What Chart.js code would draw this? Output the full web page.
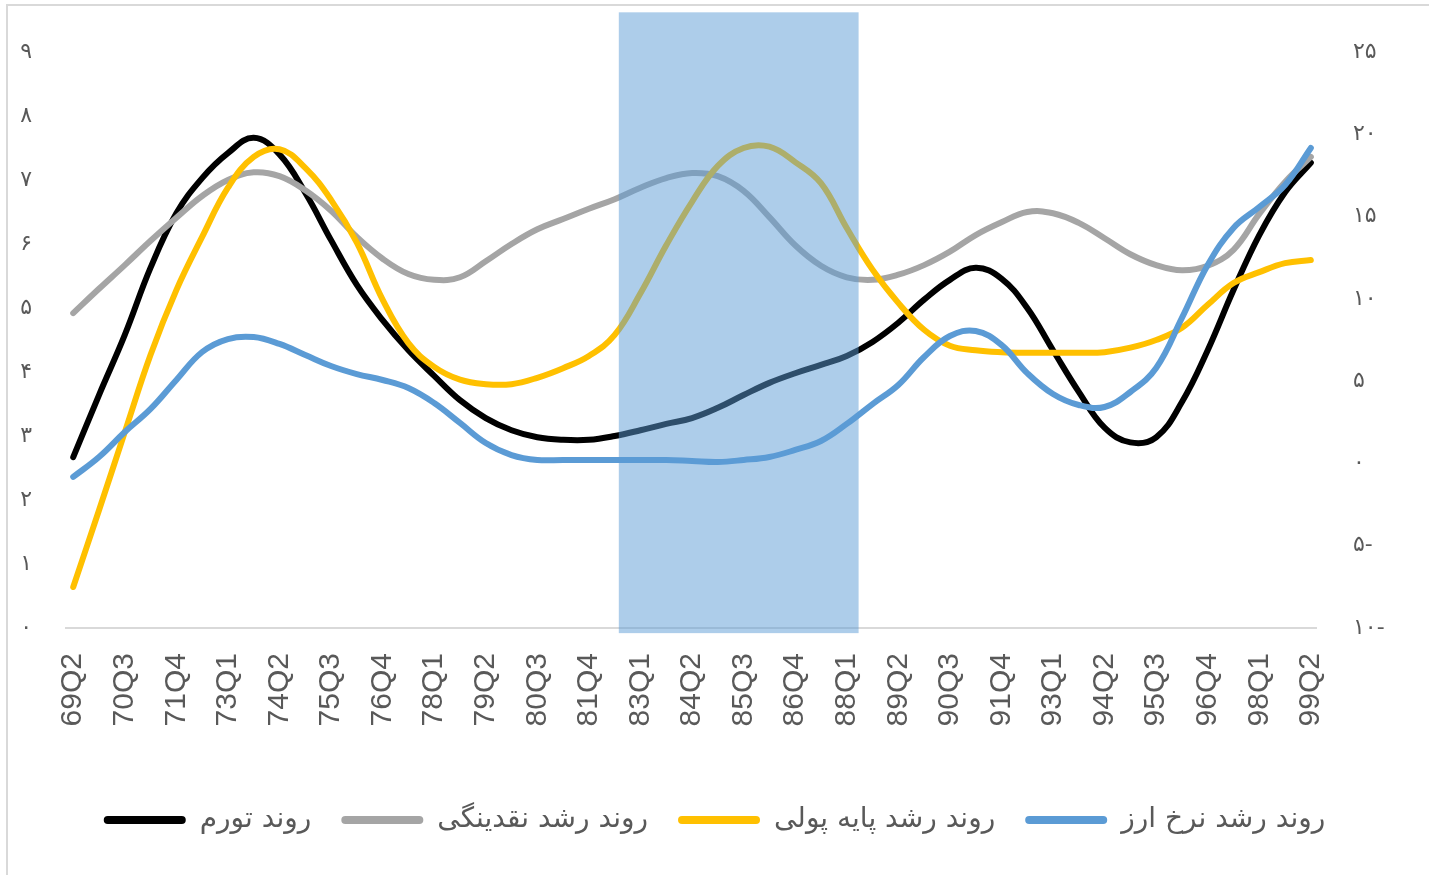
<!DOCTYPE html>
<html lang="fa">
<head>
<meta charset="utf-8">
<title>روند تورم و رشد</title>
<script src="https://cdn.jsdelivr.net/npm/chart.js@4.4.1/dist/chart.umd.min.js"></script>
<style>
  html, body { margin: 0; padding: 0; background: #fff; }
  canvas { display: block; }
</style>
</head>
<body>
<canvas id="trendChart" width="1429" height="875"></canvas>
<script>
// Etiquetas del eje X (cada 5 trimestres)
const quarterLabels = ['69Q2', '70Q3', '71Q4', '73Q1', '74Q2', '75Q3', '76Q4', '78Q1', '79Q2',
  '80Q3', '81Q4', '83Q1', '84Q2', '85Q3', '86Q4', '88Q1', '89Q2', '90Q3', '91Q4', '93Q1',
  '94Q2', '95Q3', '96Q4', '98Q1', '99Q2'];

// Posiciones leídas (en unidades de etiqueta)
const xSteps = [0, 0.5, 1, 1.5, 2, 2.5, 3, 3.5, 4, 4.5, 5, 5.5, 6, 6.5, 7, 7.5, 8, 8.5, 9, 9.5,
  10, 10.5, 11, 11.5, 12, 12.5, 13, 13.5, 14, 14.5, 15, 15.5, 16, 16.5, 17, 17.5, 18, 18.5, 19, 19.5,
  20, 20.5, 21, 21.5, 22, 22.5, 23, 23.5, 24];

// Series (eje izquierdo)
const inflation = [2.67, 3.64, 4.58, 5.63, 6.48, 7.03, 7.42, 7.66, 7.40, 6.80, 6.06, 5.36, 4.81, 4.34,
  3.94, 3.56, 3.28, 3.09, 2.98, 2.94, 2.94, 3.00, 3.09, 3.19, 3.28, 3.44, 3.64, 3.83, 3.98, 4.11,
  4.25, 4.47, 4.77, 5.13, 5.44, 5.63, 5.46, 5.00, 4.34, 3.69, 3.13, 2.90, 2.98, 3.53, 4.34, 5.28,
  6.14, 6.81, 7.27];
const liquidity = [4.92, 5.30, 5.67, 6.05, 6.41, 6.75, 7.00, 7.12, 7.06, 6.84, 6.52, 6.11, 5.77, 5.53,
  5.44, 5.48, 5.73, 6.00, 6.23, 6.39, 6.55, 6.70, 6.88, 7.03, 7.11, 7.06, 6.83, 6.42, 5.98, 5.66,
  5.48, 5.44, 5.52, 5.67, 5.88, 6.14, 6.34, 6.50, 6.48, 6.33, 6.09, 5.84, 5.67, 5.59, 5.66, 5.91,
  6.47, 6.97, 7.36];
const monetaryBase = [0.64, 1.84, 3.06, 4.27, 5.28, 6.11, 6.88, 7.36, 7.48, 7.19, 6.69, 6.02, 5.13, 4.45,
  4.08, 3.88, 3.81, 3.81, 3.91, 4.06, 4.25, 4.58, 5.23, 5.98, 6.66, 7.22, 7.50, 7.52, 7.28, 6.95,
  6.25, 5.60, 5.08, 4.66, 4.41, 4.34, 4.31, 4.30, 4.30, 4.30, 4.31, 4.38, 4.50, 4.69, 5.05, 5.39,
  5.56, 5.70, 5.75];
// Serie del eje derecho
const exchangeRate = [-0.82, 0.39, 1.91, 3.31, 5.07, 6.77, 7.56, 7.68, 7.26, 6.59, 5.92, 5.43, 5.07, 4.58,
  3.67, 2.46, 1.24, 0.51, 0.21, 0.21, 0.21, 0.21, 0.21, 0.21, 0.15, 0.09, 0.21, 0.39, 0.82, 1.36,
  2.40, 3.61, 4.77, 6.47, 7.74, 8.05, 7.20, 5.49, 4.22, 3.55, 3.43, 4.34, 5.80, 8.84, 12.06, 14.31,
  15.58, 16.92, 19.17];

const seriesNames = ['روند تورم', 'روند رشد نقدینگی', 'روند رشد پایه پولی', 'روند رشد نرخ ارز'];

// Zona sombreada (unidades de etiqueta y del eje izquierdo)
const shadeRange = [10.58, 15.23];
const shadeValues = [-0.08, 9.62];

const faDigits = ['۰', '۱', '۲', '۳', '۴', '۵', '۶', '۷', '۸', '۹'];
const toFa = (n) => String(n).replace(/\d/g, d => faDigits[d]);

const toPoints = (values) => values.map((v, i) => ({ x: xSteps[i], y: v }));

function lineSet(label, values, color, axis, order) {
  return {
    label: label,
    data: toPoints(values),
    borderColor: color,
    backgroundColor: color,
    borderWidth: 6,
    borderCapStyle: 'round',
    borderJoinStyle: 'round',
    pointRadius: 0,
    tension: 0.4,
    yAxisID: axis,
    order: order
  };
}

// Marco gris y fondo blanco
const framePlugin = {
  id: 'frame',
  beforeDraw(chart) {
    const ctx = chart.ctx;
    ctx.save();
    ctx.fillStyle = '#fff';
    ctx.fillRect(0, 0, chart.width, chart.height);
    ctx.strokeStyle = '#d9d9d9';
    ctx.lineWidth = 2;
    ctx.strokeRect(7, 5, chart.width + 20, chart.height + 20);
    ctx.restore();
  }
};

// Rectángulo azul semitransparente encima de las líneas
const shadePlugin = {
  id: 'shade',
  afterDatasetsDraw(chart) {
    const { ctx, scales } = chart;
    const x1 = scales.x.getPixelForValue(shadeRange[0]);
    const x2 = scales.x.getPixelForValue(shadeRange[1]);
    const yTop = scales.y.getPixelForValue(shadeValues[1]);
    const yBottom = scales.y.getPixelForValue(shadeValues[0]);
    ctx.save();
    ctx.fillStyle = 'rgba(91, 155, 213, 0.5)';
    ctx.fillRect(x1, yTop, x2 - x1, yBottom - yTop);
    ctx.restore();
  }
};

const ctx = document.getElementById('trendChart').getContext('2d');

const trendChart = new Chart(ctx, {
  type: 'line',
  data: {
    datasets: [
      lineSet(seriesNames[0], inflation, '#000000', 'y', 4),
      lineSet(seriesNames[1], liquidity, '#a5a5a5', 'y', 3),
      lineSet(seriesNames[2], monetaryBase, '#ffc000', 'y', 2),
      lineSet(seriesNames[3], exchangeRate, '#5b9bd5', 'y1', 1)
    ]
  },
  options: {
    responsive: false,
    animation: false,
    layout: { padding: { top: 52, bottom: 31, left: 0, right: 0 } },
    plugins: {
      tooltip: { enabled: false },
      legend: {
        position: 'bottom',
        labels: {
          boxWidth: 82,
          boxHeight: 8,
          padding: 30,
          color: '#595959',
          font: { family: 'DejaVu Sans', size: 28 },
          useBorderRadius: true,
          borderRadius: 4,
          generateLabels: (chart) => {
            const items = Chart.defaults.plugins.legend.labels.generateLabels(chart);
            items.forEach(it => { it.lineWidth = 0; });
            return items.sort((a, b) => a.datasetIndex - b.datasetIndex);
          }
        }
      }
    },
    scales: {
      x: {
        type: 'linear',
        min: -0.14,
        max: 24.1,
        grid: { display: false, drawTicks: false },
        border: { display: true, color: '#d9d9d9', width: 2 },
        afterBuildTicks: (scale) => {
          scale.ticks = quarterLabels.map((_, i) => ({ value: i }));
        },
        afterFit: (scale) => { scale.height = 148; },
        ticks: {
          autoSkip: false,
          minRotation: 90,
          maxRotation: 90,
          padding: 25,
          color: '#595959',
          font: { family: 'Liberation Sans', size: 30 },
          callback: (v) => quarterLabels[v]
        }
      },
      y: {
        position: 'left',
        min: 0,
        max: 9,
        grid: { display: false, drawTicks: false },
        border: { display: false },
        afterFit: (scale) => { scale.width = 66; },
        ticks: {
          stepSize: 1,
          padding: 34,
          color: '#595959',
          font: { family: 'DejaVu Sans', size: 22 },
          callback: (v) => toFa(v)
        }
      },
      y1: {
        position: 'right',
        min: -10,
        max: 25,
        grid: { display: false, drawTicks: false },
        border: { display: false },
        afterFit: (scale) => { scale.width = 113; },
        ticks: {
          stepSize: 5,
          padding: 37,
          color: '#595959',
          font: { family: 'DejaVu Sans', size: 22 },
          callback: (v) => (v < 0 ? toFa(-v) + '-' : toFa(v))
        }
      }
    }
  },
  plugins: [framePlugin, shadePlugin]
});
</script>
</body>
</html>
